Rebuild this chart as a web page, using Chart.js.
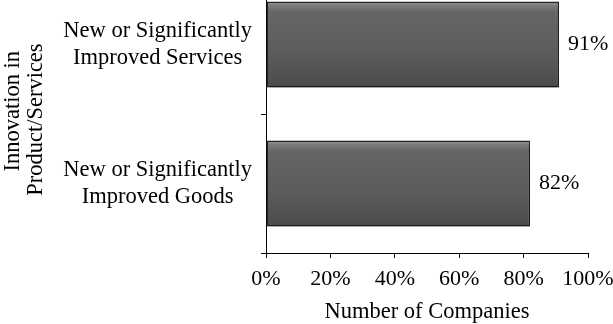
<!DOCTYPE html>
<html>
<head>
<meta charset="utf-8">
<script src="https://cdn.jsdelivr.net/npm/chart.js@4.4.0/dist/chart.umd.min.js"></script>
<style>
    html, body { margin: 0; padding: 0; background: #fff; overflow: hidden; }
    /* the top of the first category band is cut off in the original, so the canvas starts above the page */
    #wrap { position: relative; width: 613px; height: 349px; margin-top: -25px; }
</style>
</head>
<body>
<div id="wrap"><canvas id="innovChart" width="613" height="349"></canvas></div>
<script>
// Data
const categories = [
    ['New or Significantly', 'Improved Services'],
    ['New or Significantly', 'Improved Goods']
];
const shares = [91, 82];
const xTickValues = [0, 20, 40, 60, 80, 100];
// spaces keep both title lines flush at the top, as in the original
const yTitle = ['   Innovation in  ', 'Product/Services  '];
const xTitle = 'Number of Companies';

const SERIF = "'Liberation Serif', 'Times New Roman', serif";

Chart.defaults.color = '#000';
Chart.defaults.font.family = SERIF;

// Gradient for each bar, with a light bevel on its top edge
function barFill(context) {
    const chart = context.chart;
    const { ctx, chartArea, scales } = chart;
    if (!chartArea || !scales.y) return '#5a5a5a';
    const band = scales.y.height / categories.length;
    const half = band * 0.62 / 2;
    const center = scales.y.getPixelForValue(context.dataIndex);
    const g = ctx.createLinearGradient(0, center - half, 0, center + half);
    g.addColorStop(0, '#9a9a9a');
    g.addColorStop(0.05, '#7a7a7a');
    g.addColorStop(0.12, '#666666');
    g.addColorStop(0.6, '#5c5c5c');
    g.addColorStop(1, '#4a4a4a');
    return g;
}

// Soft shadow under the bars + value labels at the bar ends
const barDecor = {
    id: 'barDecor',
    beforeDatasetsDraw(chart) {
        const ctx = chart.ctx;
        ctx.save();
        ctx.shadowColor = 'rgba(0, 0, 0, 0.35)';
        ctx.shadowBlur = 4;
        ctx.shadowOffsetX = 2;
        ctx.shadowOffsetY = 3;
    },
    afterDatasetsDraw(chart) {
        const ctx = chart.ctx;
        ctx.restore();
        const meta = chart.getDatasetMeta(0);
        ctx.save();
        ctx.font = '22px ' + SERIF;
        ctx.fillStyle = '#000';
        ctx.textAlign = 'left';
        ctx.textBaseline = 'middle';
        meta.data.forEach((bar, i) => {
            ctx.fillText(shares[i] + '%', bar.x + 9, bar.y);
        });
        ctx.restore();
    }
};

new Chart(document.getElementById('innovChart'), {
    type: 'bar',
    data: {
        labels: categories,
        datasets: [{
            data: shares,
            backgroundColor: barFill,
            borderColor: '#262626',
            borderWidth: 1.5,
            borderSkipped: false,
            categoryPercentage: 1,
            barPercentage: 0.62
        }]
    },
    options: {
        indexAxis: 'y',
        responsive: false,
        animation: false,
        layout: { padding: { top: 0, right: 25, bottom: 0, left: 0 } },
        plugins: {
            legend: { display: false },
            tooltip: { enabled: false }
        },
        scales: {
            x: {
                min: 0,
                max: 100,
                afterBuildTicks: (scale) => {
                    scale.ticks = xTickValues.map(v => ({ value: v }));
                },
                afterFit: (scale) => {
                    scale.height = 71;
                    scale.paddingLeft = 0;
                    scale.paddingRight = 0;
                },
                ticks: {
                    callback: (v) => v + '%',
                    font: { size: 22 },
                    padding: 8,
                    maxRotation: 0
                },
                grid: { drawOnChartArea: false, color: '#000', tickLength: 5 },
                border: { display: true, color: '#000', width: 1 },
                title: {
                    display: true,
                    text: xTitle,
                    font: { size: 22.5 },
                    padding: { top: 5, bottom: -2 }
                }
            },
            y: {
                afterFit: (scale) => {
                    scale.width = 266;
                    scale.paddingTop = 0;
                    scale.paddingBottom = 0;
                },
                ticks: {
                    font: { size: 22.5, lineHeight: 1.2 },
                    padding: 9,
                    crossAlign: 'center'
                },
                grid: { drawOnChartArea: false, color: '#000', tickLength: 5, offset: true },
                border: { display: true, color: '#000', width: 1 },
                title: {
                    display: true,
                    text: yTitle,
                    font: { size: 22.5, lineHeight: 1.0 },
                    padding: { top: 2, bottom: 16 }
                }
            }
        }
    },
    plugins: [barDecor]
});
</script>
</body>
</html>
